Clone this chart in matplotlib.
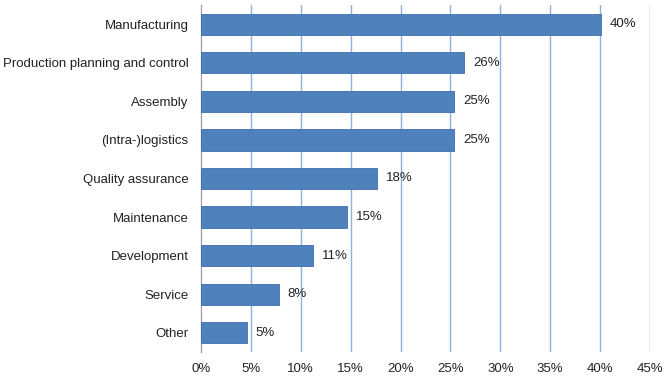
import matplotlib
matplotlib.use("Agg")
import matplotlib.pyplot as plt

categories = ["Manufacturing", "Production planning and control", "Assembly",
              "(Intra-)logistics", "Quality assurance", "Maintenance",
              "Development", "Service", "Other"]
values = [40.1, 26.4, 25.4, 25.4, 17.6, 14.6, 11.2, 7.8, 4.6]
labels = ["40%", "26%", "25%", "25%", "18%", "15%", "11%", "8%", "5%"]
xticks = [0, 5, 10, 15, 20, 25, 30, 35, 40, 45]
xticklabels = [f"{t}%" for t in xticks]

plt.rcParams['font.family'] = ['Liberation Sans', 'DejaVu Sans']

fig = plt.figure(figsize=(6.7, 3.79), dpi=100)
ax = fig.add_axes([201/670, 1 - 352/379, (650 - 201)/670, (352 - 5)/379])

y = list(range(len(categories)))
ax.barh(y, values, height=0.55, color="#4F81BD", edgecolor="#4170AB", linewidth=0.6, zorder=3)
for yi, v, lab in zip(y, values, labels):
    ax.text(v + 0.9, yi, lab, va="center", ha="left", fontsize=9.5, color="#222222")

ax.set_ylim(len(categories) - 0.5, -0.5)
ax.set_xlim(0, 45)
ax.set_yticks(y)
ax.set_yticklabels(categories, fontsize=9.5, color="#222222")
ax.set_xticks(xticks)
ax.set_xticklabels(xticklabels, fontsize=9.5, color="#222222")
ax.tick_params(axis="x", length=0, pad=8)
ax.tick_params(axis="y", length=0, pad=9)

for t in xticks[1:]:
    ax.axvline(t, color="#8EB1DD", linewidth=1.0, zorder=1)

for s in ["top", "right", "bottom"]:
    ax.spines[s].set_visible(False)
ax.spines["left"].set_color("#A6A6A6")
ax.spines["left"].set_linewidth(1.0)

fig.savefig("out.png", dpi=100)
